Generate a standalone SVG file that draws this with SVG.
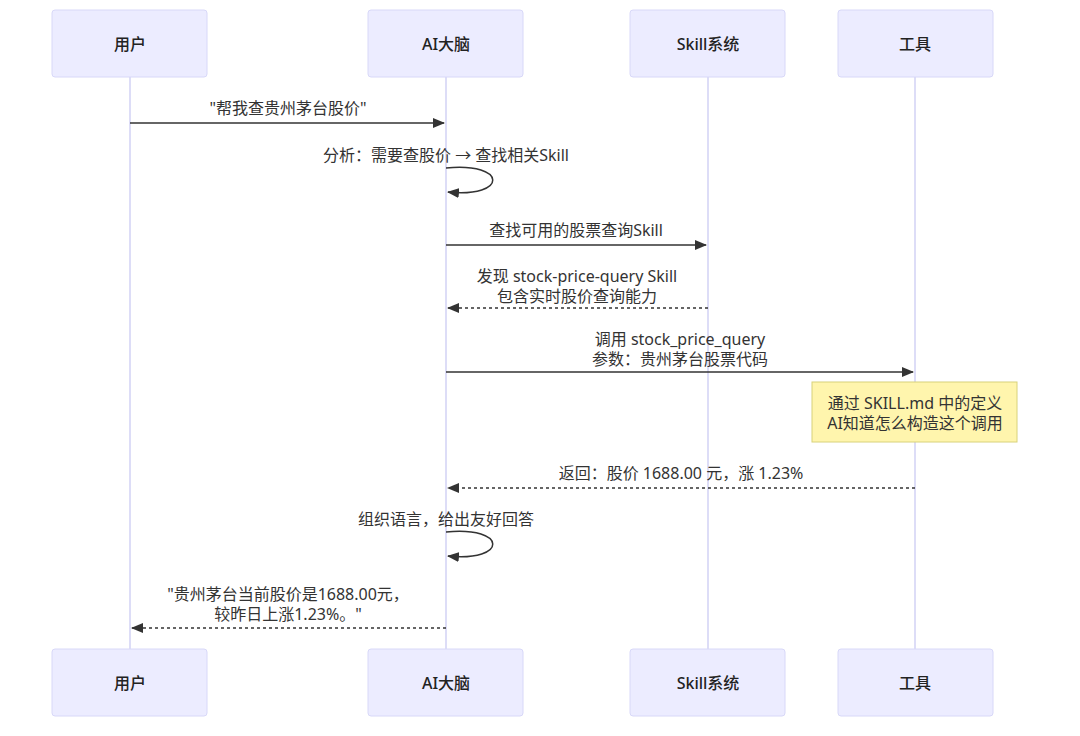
<svg xmlns="http://www.w3.org/2000/svg" width="1080" height="736" viewBox="0 0 1080 736">
<style>
.actor rect{fill:#ECECFF;stroke:#D8D8F8;stroke-width:1}
.actor text{font-family:"Noto Sans","Noto Sans CJK SC",sans-serif;font-size:16px;font-weight:500;fill:#222;text-anchor:middle;dominant-baseline:central}
.life{stroke:#D2D2F4;stroke-width:1.5}
.msg{stroke:#333;stroke-width:1.5;fill:none}
.dash{stroke-dasharray:3,3}
.lbl{font-family:"Noto Sans","Noto Sans CJK SC",sans-serif;font-size:16px;fill:#333;text-anchor:middle;dominant-baseline:central}
.note rect{fill:#FFF5AD;stroke:#D8D27A;stroke-width:1}
</style>
<defs>
<marker id="ah" viewBox="0 0 12 10" refX="11" refY="5" markerWidth="12" markerHeight="10" markerUnits="userSpaceOnUse" orient="auto">
<path d="M0,0 L12,5 L0,10 z" fill="#333"/>
</marker>
</defs>
<rect width="1080" height="736" fill="#fff"/>
<g id="lifelines">
<line class="life" x1="130" y1="77" x2="130" y2="649"/>
<line class="life" x1="446" y1="77" x2="446" y2="649"/>
<line class="life" x1="708" y1="77" x2="708" y2="649"/>
<line class="life" x1="915" y1="77" x2="915" y2="649"/>
</g>
<g id="actor-user-top" class="actor"><rect x="52" y="10" width="155" height="67" rx="3"/><text x="130" y="44">用户</text></g>
<g id="actor-ai-top" class="actor"><rect x="368" y="10" width="155" height="67" rx="3"/><text x="446" y="44">AI大脑</text></g>
<g id="actor-skill-top" class="actor"><rect x="630" y="10" width="155" height="67" rx="3"/><text x="708" y="44">Skill系统</text></g>
<g id="actor-tool-top" class="actor"><rect x="838" y="10" width="155" height="67" rx="3"/><text x="915" y="44">工具</text></g>
<g id="actor-user-bottom" class="actor"><rect x="52" y="649" width="155" height="67" rx="3"/><text x="130" y="683">用户</text></g>
<g id="actor-ai-bottom" class="actor"><rect x="368" y="649" width="155" height="67" rx="3"/><text x="446" y="683">AI大脑</text></g>
<g id="actor-skill-bottom" class="actor"><rect x="630" y="649" width="155" height="67" rx="3"/><text x="708" y="683">Skill系统</text></g>
<g id="actor-tool-bottom" class="actor"><rect x="838" y="649" width="155" height="67" rx="3"/><text x="915" y="683">工具</text></g>
<g id="note" class="note"><rect x="812" y="382" width="205" height="60"/><text class="lbl" x="915" y="403">通过 SKILL.md 中的定义</text><text class="lbl" x="915" y="423">AI知道怎么构造这个调用</text></g>
<g id="connectors">
<line class="msg" x1="130" y1="123" x2="444" y2="123" marker-end="url(#ah)"/>
<text class="lbl" x="288" y="108">"帮我查贵州茅台股价"</text>
<path class="msg" d="M446,168 C508,162 508,198 448,192" marker-end="url(#ah)"/>
<text class="lbl" x="446" y="155">分析：需要查股价 → 查找相关Skill</text>
<line class="msg" x1="446" y1="245" x2="706" y2="245" marker-end="url(#ah)"/>
<text class="lbl" x="576" y="230">查找可用的股票查询Skill</text>
<line class="msg dash" x1="708" y1="308" x2="448" y2="308" marker-end="url(#ah)"/>
<text class="lbl" x="577" y="276">发现 stock-price-query Skill</text>
<text class="lbl" x="577" y="296">包含实时股价查询能力</text>
<line class="msg" x1="446" y1="372" x2="913" y2="372" marker-end="url(#ah)"/>
<text class="lbl" x="680" y="339">调用 stock_price_query</text>
<text class="lbl" x="680" y="359">参数：贵州茅台股票代码</text>
<line class="msg dash" x1="915" y1="488" x2="448" y2="488" marker-end="url(#ah)"/>
<text class="lbl" x="681" y="473">返回：股价 1688.00 元，涨 1.23%</text>
<path class="msg" d="M446,532 C508,526 508,562 448,556" marker-end="url(#ah)"/>
<text class="lbl" x="446" y="519">组织语言，给出友好回答</text>
<line class="msg dash" x1="446" y1="628" x2="132" y2="628" marker-end="url(#ah)"/>
<text class="lbl" x="288" y="594">"贵州茅台当前股价是1688.00元，</text>
<text class="lbl" x="288" y="614">较昨日上涨1.23%。"</text>
</g>
</svg>
